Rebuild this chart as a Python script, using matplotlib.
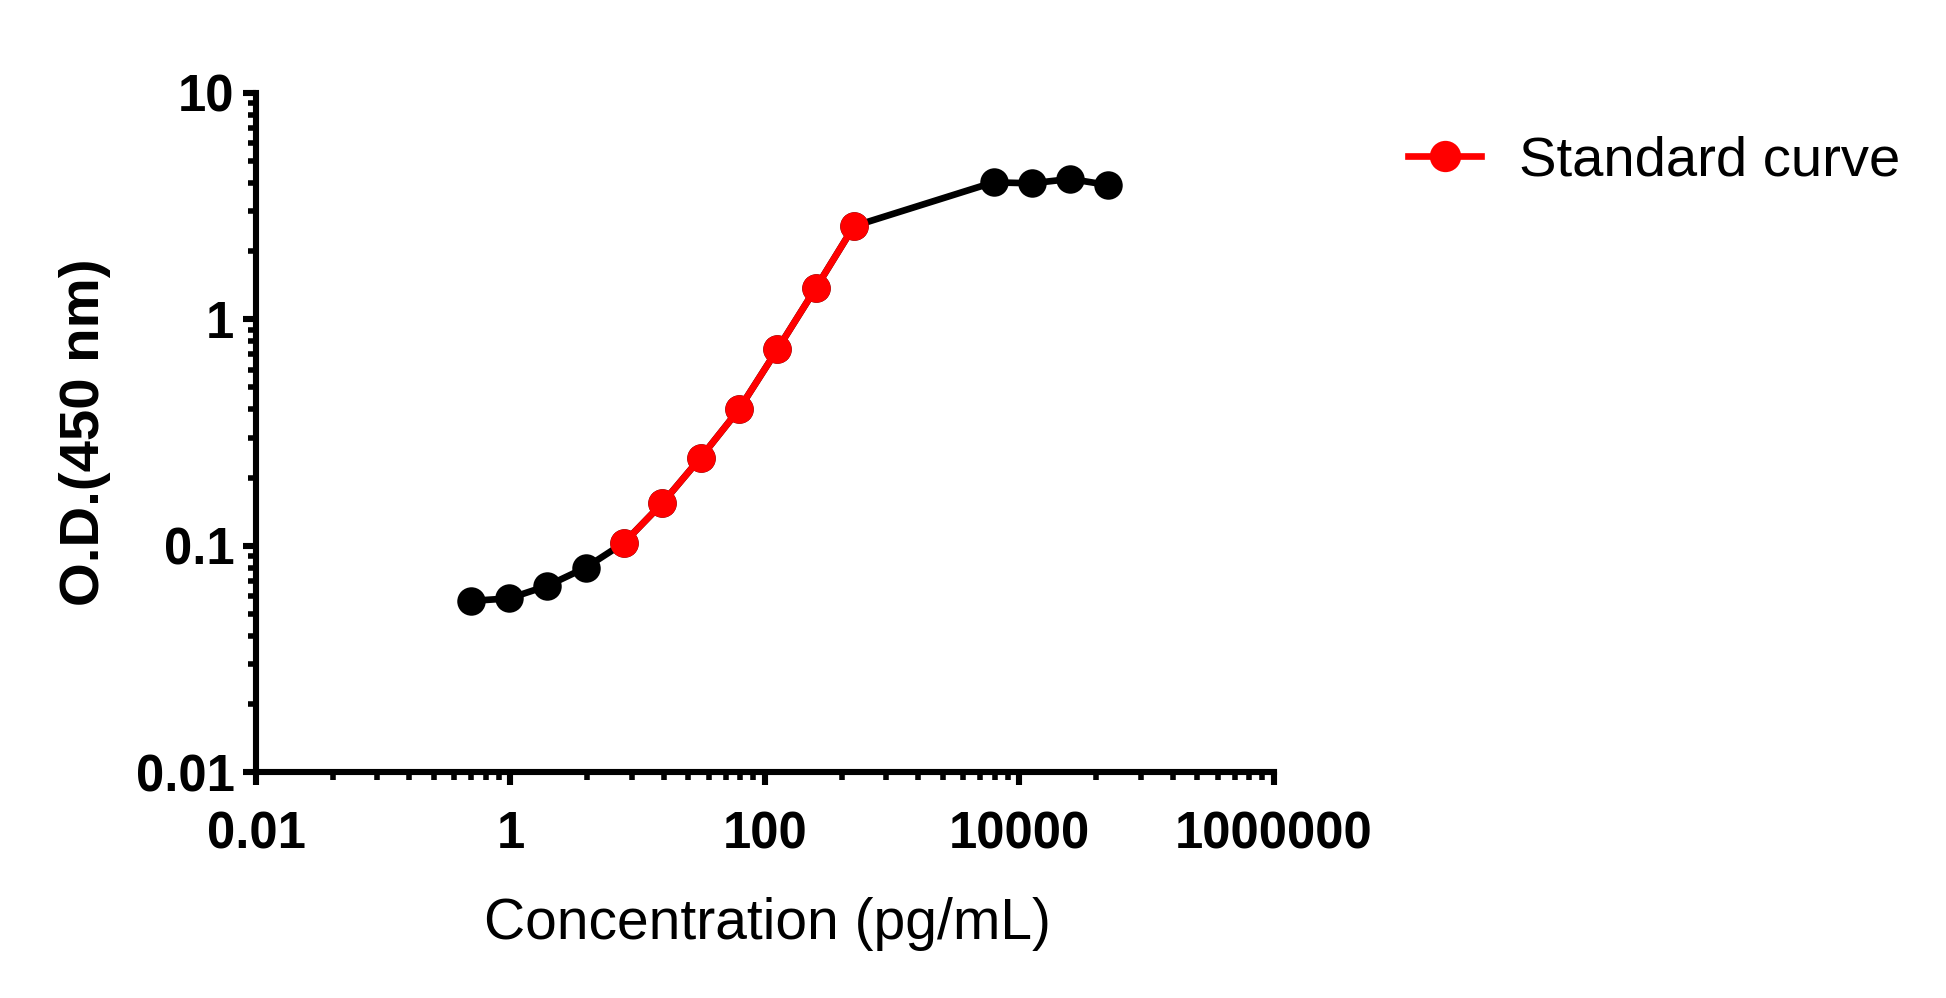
import matplotlib
matplotlib.use("Agg")
import matplotlib.pyplot as plt
from matplotlib.ticker import FixedLocator, FixedFormatter, LogLocator, NullFormatter

plt.rcParams["font.family"] = ["Liberation Sans", "DejaVu Sans"]

# concentration (pg/mL), 2-fold dilution series plus high points
conc = [0.49, 0.98, 1.95, 3.9, 7.8, 15.6, 31.25, 62.5, 125, 250, 500,
        6250, 12500, 25000, 50000]
od = [0.057, 0.0585, 0.0665, 0.080, 0.103, 0.154, 0.245, 0.400, 0.736,
      1.37, 2.58, 4.03, 3.99, 4.17, 3.92]
# points belonging to the fitted standard range (drawn red)
std_start, std_end = 4, 10

x_ticks = [0.01, 1, 100, 10000, 1000000]
x_labels = ["0.01", "1", "100", "10000", "1000000"]
y_ticks = [0.01, 0.1, 1, 10]
y_labels = ["0.01", "0.1", "1", "10"]

fig = plt.figure(figsize=(19.46, 9.98), dpi=100)
ax = fig.add_axes([256 / 1946, 1 - 772 / 998, (1274 - 256) / 1946, (772 - 93) / 998])

lw = 4.8
ms = 20.5
ax.plot(conc, od, color="black", linewidth=lw, marker="o", markersize=ms,
        markeredgewidth=0, zorder=3, clip_on=False)
ax.plot(conc[std_start:std_end + 1], od[std_start:std_end + 1], color="#FF0000",
        linewidth=lw, marker="o", markersize=ms, markeredgewidth=0, zorder=4,
        clip_on=False, label="Standard curve")

ax.set_xscale("log")
ax.set_yscale("log")
ax.set_xlim(0.01, 1000000)
ax.set_ylim(0.01, 10)

ax.xaxis.set_major_locator(FixedLocator(x_ticks))
ax.xaxis.set_major_formatter(FixedFormatter(x_labels))
ax.xaxis.set_minor_locator(LogLocator(base=100, subs=[k * k for k in range(2, 10)], numticks=20))
ax.xaxis.set_minor_formatter(NullFormatter())
ax.yaxis.set_major_locator(FixedLocator(y_ticks))
ax.yaxis.set_major_formatter(FixedFormatter(y_labels))
ax.yaxis.set_minor_locator(LogLocator(base=10, subs=range(2, 10), numticks=20))
ax.yaxis.set_minor_formatter(NullFormatter())

for side in ["top", "right"]:
    ax.spines[side].set_visible(False)
for side in ["left", "bottom"]:
    ax.spines[side].set_linewidth(4.4)
    ax.spines[side].set_capstyle("projecting")

ax.tick_params(which="major", direction="out", length=9.5, width=4.4, color="black")
ax.tick_params(which="minor", direction="out", length=5.8, width=4.0, color="black")
ax.tick_params(axis="x", which="major", pad=18)
ax.tick_params(axis="y", which="major", pad=6)
for lab in ax.get_xticklabels() + ax.get_yticklabels():
    lab.set_fontsize(36.5)
    lab.set_fontweight("bold")

ax.set_xlabel("Concentration (pg/mL)", fontsize=41)
ax.xaxis.set_label_coords(0.502, -0.184)
ax.xaxis.label.set_va("top")
ax.set_ylabel("O.D.(450 nm)", fontsize=40.5, fontweight="bold")
ax.yaxis.set_label_coords(-0.142, 0.5)

ax.legend(loc="center left", bbox_to_anchor=(1408 / 1946, 1 - 162 / 998),
          bbox_transform=fig.transFigure, frameon=False, fontsize=40.5,
          handlelength=1.3, handletextpad=0.68, borderpad=0, borderaxespad=0,
          numpoints=1, markerscale=1.1)

fig.savefig("out.png", dpi=100)
